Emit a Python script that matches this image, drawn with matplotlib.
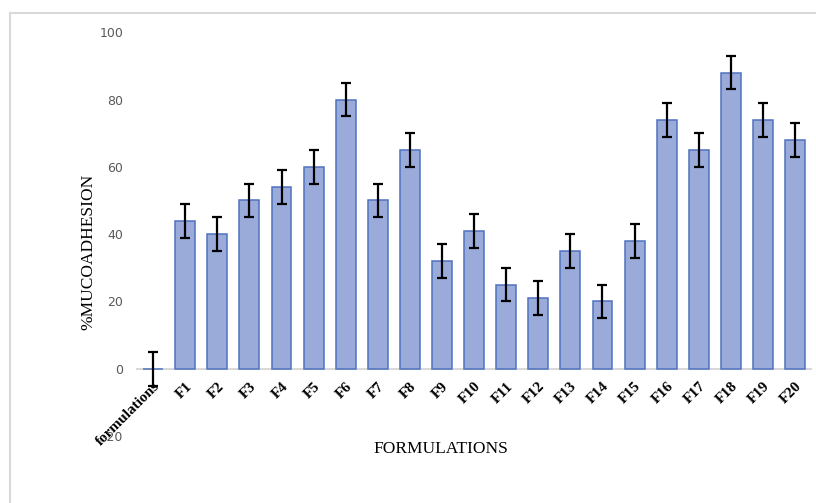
import matplotlib.pyplot as plt
import matplotlib.lines as mlines

labels = ["formulations", "F1", "F2", "F3", "F4", "F5", "F6", "F7", "F8", "F9", "F10",
          "F11", "F12", "F13", "F14", "F15", "F16", "F17", "F18", "F19", "F20"]
mucoadhesion = [0, 44, 40, 50, 54, 60, 80, 50, 65, 32, 41,
                25, 21, 35, 20, 38, 74, 65, 88, 74, 68]
errors = [5] * 21

fig = plt.figure(figsize=(8.16, 5.03), dpi=100)
ax = fig.add_axes([0.168, 0.133, 0.826, 0.803])

x = list(range(len(labels)))
ax.bar(x, mucoadhesion, width=0.62, color="#9AABDA", edgecolor="#4F72BE", linewidth=1.1,
       yerr=errors, capsize=3.5, error_kw=dict(ecolor="black", elinewidth=1.6, capthick=1.6),
       zorder=2)

# category axis sits on the zero line (set before tick labels, it resets them)
for side in ["top", "right", "left"]:
    ax.spines[side].set_visible(False)
ax.spines["bottom"].set_position(("data", 0))
ax.spines["bottom"].set_color("#D9D9D9")
ax.spines["bottom"].set_linewidth(1.5)
ax.spines["bottom"].set_zorder(1)

ax.set_xlim(-0.5, 20.5)
ax.set_ylim(-20, 100)
ax.set_yticks([-20, 0, 20, 40, 60, 80, 100])
ax.set_yticklabels(["-20", "0", "20", "40", "60", "80", "100"], fontsize=9, color="#595959")

ax.set_xticks(x)
ax.set_xticklabels(labels, rotation=45, ha="right", va="top", rotation_mode="anchor",
                   fontfamily="Liberation Serif", fontweight="bold", fontsize=11)
ax.tick_params(axis="both", length=0)
ax.tick_params(axis="y", pad=10)
ax.tick_params(axis="x", pad=8)

fig.text(0.108, 0.50, "%MUCOADHESION", rotation=90, ha="center", va="center",
         fontfamily="Liberation Serif", fontsize=12.5)
fig.text(0.54, 0.107, "FORMULATIONS", ha="center", va="center",
         fontfamily="Liberation Serif", fontsize=12.5)

# light frame around the chart area
fig.add_artist(mlines.Line2D([0.012, 1.0], [0.974, 0.974], color="#D9D9D9", lw=1.5))
fig.add_artist(mlines.Line2D([0.012, 0.012], [0.0, 0.974], color="#D9D9D9", lw=1.5))

fig.savefig("out.png", dpi=100)
